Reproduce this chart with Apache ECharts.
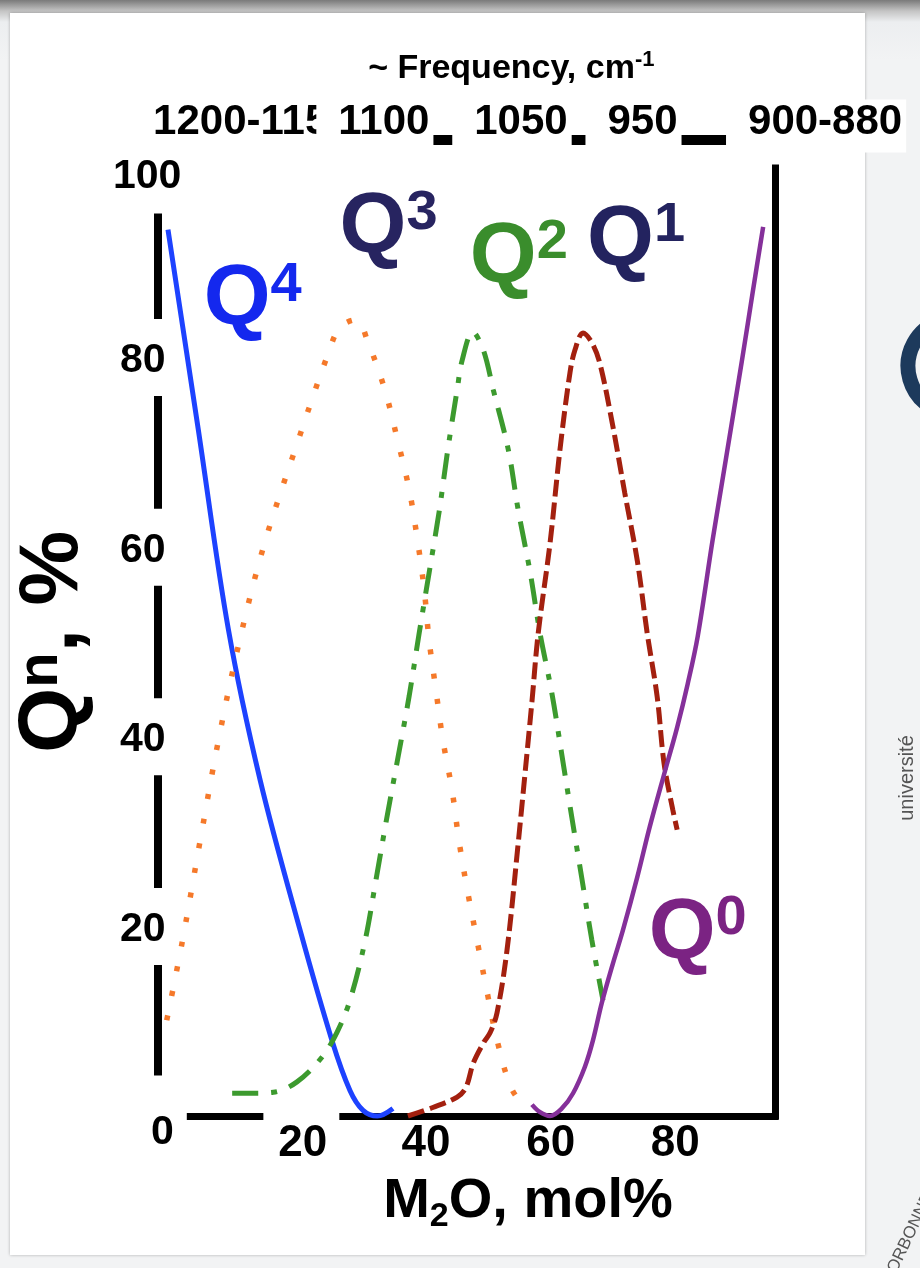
<!DOCTYPE html>
<html>
<head>
<meta charset="utf-8">
<script src="https://cdn.jsdelivr.net/npm/echarts@6/dist/echarts.min.js"></script>
<style>
  html, body { margin: 0; padding: 0; }
  body {
    width: 920px; height: 1268px; position: relative; overflow: hidden;
    background: linear-gradient(#7a7a7a 0px, #c4c4c4 11px, #eceef0 22px, #f2f3f4 60px);
  }
  #panel {
    position: absolute; left: 10px; top: 13px; width: 855px; height: 1242px;
    background: #fff; box-shadow: 0 0 3px rgba(0,0,0,0.28);
  }
  #chart { position: absolute; left: 0; top: 0; width: 920px; height: 1268px; }
</style>
</head>
<body>
<div id="panel"></div>
<div id="chart"></div>
<script>
const FONT = '"Liberation Sans", Arial, Helvetica, sans-serif';

// M2O axis tick labels (mol%)
const xTicks = [20, 40, 60, 80];

// Raman band labels on the upper axis and the M2O content where each band dominates
const freqLabels = ['1200-1150', '1100', '1050', '950', '900-880'];
const freqPos = [10.7, 31.8, 53.8, 73.3, 102.6];
const FREQ_MIN = -3;

// Qn species fractions (%) versus M2O content (mol%)
const q4 = [[-1.4, 93.5], [3.4, 72.7], [8.3, 51.3], [13.4, 35.4], [19.8, 19.6], [24.9, 8.0],
            [27.8, 2.7], [29.9, 0.6], [32.2, 0], [34.7, 0.8]];
const q3 = [[-1.6, 10.1], [0.9, 18.4], [3.7, 28.8], [6.6, 39.3], [10.0, 49.9], [14.0, 60.2],
            [19.1, 70.5], [24.4, 80.6], [26.2, 83.2], [28.8, 84.0], [30.7, 81.6], [33.4, 76.6],
            [35.4, 71.4], [37.3, 66.1], [38.6, 60.9], [39.7, 55.6], [40.5, 50.2], [41.6, 44.9],
            [42.7, 39.7], [44.2, 34.3], [45.3, 29.0], [46.7, 23.6], [48.2, 18.5], [49.8, 13.1],
            [51.4, 8.0], [53.8, 2.8], [56.4, 0.6]];
const q2 = [[8.9, 2.4], [11.8, 2.4], [15.5, 2.5], [19.3, 3.6], [23.3, 6.2], [25.7, 8.8],
            [27.8, 12.2], [30.2, 18.4], [32.0, 25.0], [33.7, 31.4], [35.5, 37.8], [37.3, 44.3],
            [38.9, 50.9], [40.5, 57.3], [42.1, 63.7], [43.5, 70.3], [45.0, 76.6], [45.8, 79.7],
            [47.5, 82.7], [49.2, 80.8], [50.8, 76.6], [53.2, 70.3], [54.8, 63.9], [56.7, 57.4],
            [58.3, 50.9], [60.2, 44.6], [61.8, 38.1], [63.4, 31.5], [65.0, 25.1], [66.6, 18.6],
            [68.4, 12.2]];
const q1 = [[37.1, 0], [41.1, 0.9], [45.0, 2.0], [46.4, 3.0], [47.6, 5.6], [49.3, 7.8],
            [50.3, 8.8], [51.4, 10.9], [53.0, 17.5], [54.8, 28.8], [55.9, 36.2], [57.0, 43.7],
            [58.0, 50.9], [59.9, 60.4], [61.5, 70.3], [63.1, 78.4], [63.9, 80.8], [65.2, 82.6],
            [66.6, 81.6], [67.9, 79.4], [70.0, 72.7], [71.9, 65.7], [73.9, 58.6], [75.5, 50.9],
            [77.1, 44.2], [78.2, 37.2], [79.6, 32.3], [80.3, 30.2]];
const q0 = [[57.0, 1.2], [58.3, 0.4], [59.9, 0], [61.8, 0.8], [63.6, 2.4], [65.5, 5.2],
            [66.8, 8.0], [68.2, 11.9], [70.0, 16.1], [71.6, 19.6], [73.9, 25.2], [75.9, 30.5],
            [78.4, 36.5], [80.3, 41.0], [82.0, 45.6], [83.6, 50.6], [86.0, 60.8], [88.1, 69.2],
            [90.7, 79.7], [92.4, 86.8], [94.1, 93.8]];

// Species names, superscripts and where their tags sit (M2O mol%, Qn %)
const speciesSup = ['4', '3', '2', '1', '0'];
const tagPos = [[12.2, 86.0], [34.0, 93.6], [54.9, 90.5], [73.7, 92.3], [83.6, 19.2]];

function qTag(sup, pos, color) {
  return {
    symbol: 'circle', symbolSize: 0, silent: true,
    itemStyle: { color: 'transparent' },
    label: {
      show: true, position: 'inside',
      formatter: '{q|Q}{s|' + sup + '}',
      rich: {
        q: { fontFamily: FONT, fontWeight: 'bold', fontSize: 86, lineHeight: 86, color: color },
        s: { fontFamily: FONT, fontWeight: 'bold', fontSize: 56, lineHeight: 56, color: color, verticalAlign: 'top' }
      }
    },
    data: [{ coord: pos }]
  };
}

function curve(name, data, color, width, dash, tagColor, idx) {
  return {
    name: name, type: 'line', data: data,
    smooth: 0.35, showSymbol: false, symbol: 'none', clip: false,
    lineStyle: { color: color, width: width, type: dash, cap: 'butt' },
    markPoint: qTag(speciesSup[idx], tagPos[idx], tagColor),
    z: 3
  };
}

const yRich = {};
[20, 40, 60, 80].forEach(v => {
  yRich['v' + v] = { fontFamily: FONT, fontWeight: 'bold', fontSize: 41, lineHeight: 41, color: '#000',
                     backgroundColor: '#fff', padding: [21, 1, 15, 7] };
});
yRich.v100 = { fontFamily: FONT, fontWeight: 'bold', fontSize: 41, lineHeight: 41, color: '#000',
               backgroundColor: '#fff', padding: [34, 6, 16, 0] };
yRich.v0 = { fontFamily: FONT, fontWeight: 'bold', fontSize: 41, lineHeight: 41, color: '#000',
             backgroundColor: '#fff', padding: [37, 13, 3, 38] };

const xTickStyle = { fontFamily: FONT, fontWeight: 'bold', fontSize: 44, lineHeight: 44, color: '#000', padding: [24, 0, 0, 0] };

// The band labels sit on white boxes that hide the upper rule except in the gaps between them
const freqStyle = { fontFamily: FONT, fontWeight: 'bold', fontSize: 42, lineHeight: 42, color: '#000',
                    backgroundColor: '#fff', padding: [2, 4, 9, 22] };

const chart = echarts.init(document.getElementById('chart'), null, { renderer: 'canvas' });
chart.setOption({
  animation: false,
  backgroundColor: 'transparent',
  grid: [
    { left: 158, right: 145, top: 168, bottom: 152 },
    { left: 158, right: 20.4, top: 140, height: 1 }
  ],
  xAxis: [
    {
      type: 'value', gridIndex: 0, position: 'bottom', min: -3, max: 96, z: 0,
      axisLine: { show: true, onZero: false, lineStyle: { color: '#000', width: 7, cap: 'square' } },
      axisTick: { show: false }, splitLine: { show: false },
      axisLabel: {
        customValues: xTicks, margin: -6, hideOverlap: false,
        formatter: v => (v === 20 ? '{gap|' + v + '}' : '{n|' + v + '}'),
        rich: {
          n: xTickStyle,
          gap: Object.assign({}, xTickStyle, { backgroundColor: '#fff', padding: [24, 12, 0, 15] })
        }
      },
      name: '{a|M}{b|2}{a|O, mol%}', nameLocation: 'middle', nameGap: 62,
      nameTextStyle: {
        padding: [0, 0, 0, 123],
        rich: {
          a: { fontFamily: FONT, fontWeight: 'bold', fontSize: 56, lineHeight: 56, color: '#000', padding: [0, 0, 8, 0] },
          b: { fontFamily: FONT, fontWeight: 'bold', fontSize: 34, lineHeight: 34, color: '#000', verticalAlign: 'bottom' }
        }
      }
    },
    {
      type: 'value', gridIndex: 1, position: 'top', min: FREQ_MIN, max: 116, z: 2,
      axisLine: { show: true, onZero: false, lineStyle: { color: '#000', width: 10 } },
      axisTick: { show: false }, splitLine: { show: false },
      axisLabel: {
        // an empty label at the axis start takes the "first label" slot
        customValues: [FREQ_MIN].concat(freqPos), margin: -7, hideOverlap: false,
        formatter: v => {
          const i = freqPos.indexOf(v);
          return i < 0 ? '' : '{f|' + freqLabels[i] + '}';
        },
        rich: { f: freqStyle }
      },
      name: '{a|~ Frequency, cm}{s|-1}', nameLocation: 'middle', nameGap: 57,
      nameTextStyle: {
        padding: [0, 35, 0, 0],
        rich: {
          a: { fontFamily: FONT, fontWeight: 'bold', fontSize: 34, lineHeight: 34, color: '#000', padding: [6, 0, 0, 0] },
          s: { fontFamily: FONT, fontWeight: 'bold', fontSize: 22, lineHeight: 22, color: '#000', verticalAlign: 'top' }
        }
      }
    }
  ],
  yAxis: [
    {
      type: 'value', gridIndex: 0, position: 'left', min: 0, max: 100, interval: 20, z: 1,
      axisLine: { show: true, onZero: false, lineStyle: { color: '#000', width: 8 } },
      axisTick: { show: false }, splitLine: { show: false },
      axisLabel: { align: 'left', margin: 45, showMinLabel: true, showMaxLabel: true,
                   formatter: v => '{v' + v + '|' + v + '}', rich: yRich },
      name: '{q|Q}{n|n}{q|, %}', nameLocation: 'middle', nameGap: 62,
      nameTextStyle: {
        rich: {
          q: { fontFamily: FONT, fontWeight: 'bold', fontSize: 84, lineHeight: 84, color: '#000' },
          n: { fontFamily: FONT, fontWeight: 'bold', fontSize: 58, lineHeight: 58, color: '#000', verticalAlign: 'top' }
        }
      }
    },
    {
      type: 'value', gridIndex: 0, position: 'right', min: 0, max: 100,
      axisLine: { show: true, onZero: false, lineStyle: { color: '#000', width: 7, cap: 'square' } },
      axisTick: { show: false }, splitLine: { show: false }, axisLabel: { show: false }
    },
    { type: 'value', gridIndex: 1, show: false, min: 0, max: 1 }
  ],
  graphic: [
    {
      type: 'arc', silent: true,
      shape: { cx: 956, cy: 366, r: 48, startAngle: Math.PI * 0.66, endAngle: Math.PI * 1.34 },
      style: { stroke: '#1d3a5c', lineWidth: 15, fill: null }
    },
    {
      type: 'text', silent: true, x: 907, y: 778, rotation: Math.PI / 2,
      style: { text: 'université', fontFamily: FONT, fontSize: 20, fill: '#555', align: 'center', verticalAlign: 'middle' }
    },
    {
      type: 'text', silent: true, x: 908, y: 1238, rotation: Math.PI * 0.36,
      style: { text: 'SORBONNE', fontFamily: FONT, fontSize: 17, fill: '#555', align: 'center', verticalAlign: 'middle' }
    }
  ],
  series: [
    curve('Q4', q4, '#1d42ff', 5, 'solid', '#1428ee', 0),
    curve('Q3', q3, '#f5792a', 5.5, [5, 20], '#272460', 1),
    curve('Q2', q2, '#3c9a2e', 5, [26, 13, 6, 13], '#3a8d2c', 2),
    curve('Q1', q1, '#a3200f', 5, [17, 6], '#23235f', 3),
    curve('Q0', q0, '#85309a', 4.5, 'solid', '#7b2383', 4)
  ]
});
</script>
</body>
</html>
